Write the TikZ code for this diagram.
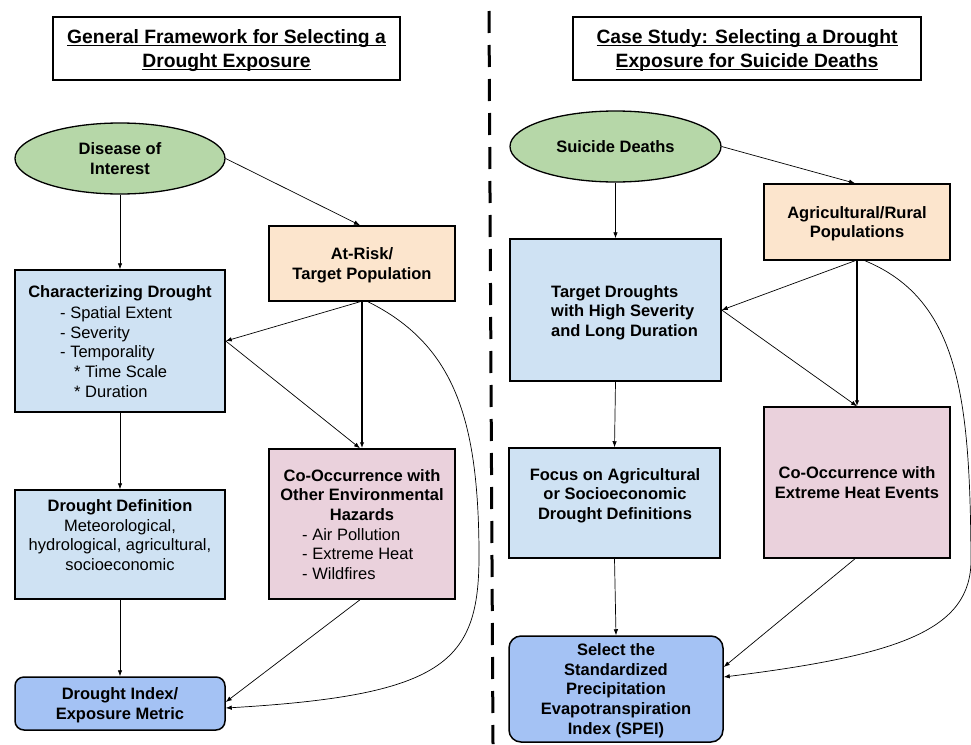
\documentclass[tikz,border=0pt]{standalone}
\usepackage{fontspec}
\setmainfont{Liberation Sans}
\usetikzlibrary{shapes.geometric,arrows.meta}
\definecolor{cgreen}{HTML}{B6D7A8}
\definecolor{cblue}{HTML}{CFE2F3}
\definecolor{corange}{HTML}{FCE5CD}
\definecolor{cpink}{HTML}{EAD1DC}
\definecolor{cdeep}{HTML}{A4C2F4}
\newcommand\bodyfont{\fontsize{16.5}{19.7}\selectfont}
\newcommand\titlefont{\fontsize{19.3}{24}\selectfont}
\newsavebox\ulbox
\newcommand\ulx[1]{\leavevmode\sbox\ulbox{#1}\rlap{\rule[-2.8pt]{\wd\ulbox}{1.2pt}}\usebox\ulbox}
\begin{document}
\begin{tikzpicture}[x=1pt,y=-1pt,
  box/.style={draw, line width=1.5pt, inner sep=0pt, align=center, text depth=0pt, font=\bodyfont\bfseries},
  oval/.style={ellipse, draw, line width=1.3pt, fill=cgreen, inner sep=0pt, align=center, text depth=0pt, font=\bodyfont\bfseries},
  titlebox/.style={draw, line width=1.3pt, inner sep=0pt, align=center, text depth=0pt, font=\titlefont\bfseries},
  txt/.style={inner sep=0pt, align=center, text depth=0pt, font=\bodyfont\bfseries},
  lst/.style={inner sep=0pt, align=left, text depth=0pt, font=\bodyfont, anchor=west},
  arr/.style={-{Latex[length=6pt,width=4.5pt]}, line width=0.7pt},
  arrthick/.style={-{Latex[length=6pt,width=4.5pt]}, line width=1.3pt}]
\useasboundingbox (0,0) rectangle (971,744);
% divider
\coordinate (d1) at (489,11);
\coordinate (d2) at (493,744);
\draw[line width=3pt, dash pattern=on 22pt off 12pt] (d1) -- (d2);
% titles
\node[titlebox, minimum width=347, minimum height=63] (t1) at (226.5,48.5)
  {\ulx{General Framework for Selecting a}\\\ulx{Drought Exposure}};
\node[titlebox, minimum width=348, minimum height=63] (t2) at (747,48.5)
  {\ulx{Case Study: Selecting a Drought}\\\ulx{Exposure for Suicide Deaths}};
% ----- left
\node[oval, minimum width=210, minimum height=71] (dis) at (120,158.5) {Disease of\\Interest};
\node[box, fill=corange, minimum width=186, minimum height=75] (atrisk) at (362,263.5) {At-Risk/\\Target Population};
\node[box, fill=cblue, minimum width=210, minimum height=142] (char) at (120,341) {};
\node[txt] (chart) at (120,292) {Characterizing Drought};
\node[lst] (charl) at (60,352) {- Spatial Extent\\- Severity\\- Temporality\\\hspace*{14pt}* Time Scale\\\hspace*{14pt}* Duration};
\node[box, fill=cblue, minimum width=210, minimum height=109] (def) at (120,544.5) {};
\node[txt] (deft) at (120,535) {Drought Definition\\\mdseries Meteorological,\\\mdseries hydrological, agricultural,\\\mdseries socioeconomic};
\node[box, fill=cpink, minimum width=186, minimum height=150] (cooc) at (362,524) {};
\node[txt] (cooct) at (362,495) {Co-Occurrence with\\Other Environmental\\Hazards};
\node[lst] (coocl) at (302,554) {- Air Pollution\\- Extreme Heat\\- Wildfires};
\node[box, fill=cdeep, rounded corners=9pt, minimum width=210, minimum height=53] (index) at (120,703.5) {Drought Index/\\Exposure Metric};
% left connectors
\draw[arr] (dis.south) -- (char.north);
\draw[arr] (dis.east) -- ([xshift=-2pt]atrisk.north);
\draw[arr] ([xshift=-2pt]atrisk.south) -- (char.east);
\draw[arr] (char.east) -- ([xshift=-2pt]cooc.north);
\draw[arrthick] (atrisk.south) -- (cooc.north);
\draw[arr] ([xshift=-2pt]cooc.south) -- ([yshift=1.5pt]index.east);
\draw[arr] ([xshift=6pt]atrisk.south) .. controls (455,345) and (478,420) .. (479,550)
  .. controls (480,660) and (450,695) .. ([yshift=-4.5pt]index.east);
\draw[arr] (char.south) -- (def.north);
\draw[arr] (def.south) -- (index.north);
% ----- right
\node[oval, minimum width=211, minimum height=71] (sui) at (615.5,146.5) {Suicide Deaths};
\node[box, fill=corange, minimum width=186, minimum height=76] (agri) at (857,222) {Agricultural/Rural\\Populations};
\node[box, fill=cblue, minimum width=211, minimum height=142] (target) at (615.5,310) {};
\node[txt, align=left, anchor=west] (targett) at (551,311) {Target Droughts\\with High Severity\\and Long Duration};
\node[box, fill=cblue, minimum width=211, minimum height=110] (focus) at (614.5,503) {};
\node[txt] (focust) at (615,494) {Focus on Agricultural\\or Socioeconomic\\Drought Definitions};
\node[box, fill=cpink, minimum width=186, minimum height=151] (heat) at (857,482.5) {Co-Occurrence with\\Extreme Heat Events};
\node[box, fill=cdeep, rounded corners=12pt, minimum width=214, minimum height=106] (spei) at (616,689)
  {Select the\\Standardized\\Precipitation\\Evapotranspiration\\Index (SPEI)};
% right connectors
\draw[arr] (sui.south) -- (target.north);
\draw[arr] (sui.east) -- ([xshift=-2pt]agri.north);
\draw[arr] ([xshift=-2pt]agri.south) -- (target.east);
\draw[arr] (target.east) -- (heat.north);
\draw[arrthick] (agri.south) -- (heat.north);
\draw[arr] ([xshift=-2pt]heat.south) -- ([yshift=22pt]spei.east);
\draw[arr] ([xshift=8pt]agri.south) .. controls (960,300) and (970,400) .. (971,560)
  .. controls (971,630) and (900,655) .. ([yshift=12pt]spei.east);
\draw[arr] (target.south) -- (focus.north);
\draw[arr] (focus.south) -- (spei.north);
\end{tikzpicture}
\end{document}
